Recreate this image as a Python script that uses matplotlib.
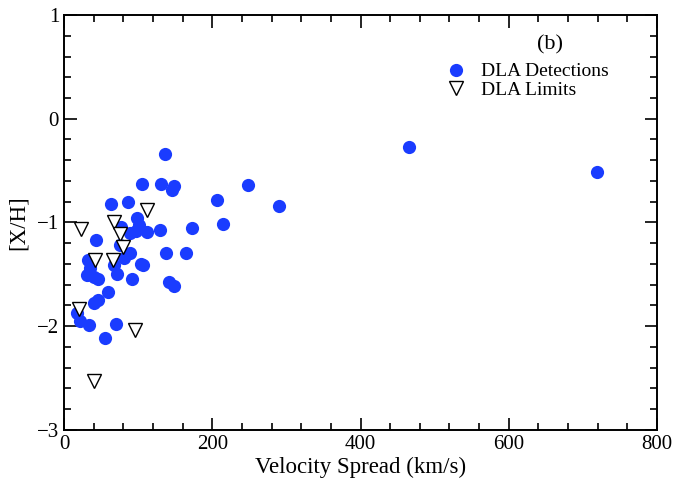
import matplotlib.pyplot as plt
from matplotlib.ticker import MultipleLocator

# DLA detections: velocity spread (km/s), [X/H]
det_v = [466, 719, 136, 105, 131, 148, 146, 248, 206, 290, 63, 86, 99, 214, 173,
         77, 89, 97, 101, 112, 129, 43, 76, 89, 138, 165, 33, 81, 104, 107, 35,
         67, 31, 40, 46, 71, 92, 141, 149, 59, 40, 46, 18, 22, 34, 70, 55]
det_xh = [-0.27, -0.51, -0.34, -0.63, -0.63, -0.65, -0.69, -0.64, -0.78, -0.84,
          -0.82, -0.80, -0.96, -1.01, -1.05, -1.04, -1.10, -1.08, -1.02, -1.09,
          -1.07, -1.17, -1.22, -1.29, -1.29, -1.29, -1.36, -1.34, -1.40, -1.41,
          -1.44, -1.41, -1.51, -1.53, -1.54, -1.50, -1.54, -1.57, -1.61, -1.67,
          -1.78, -1.75, -1.87, -1.95, -1.99, -1.98, -2.11]

# DLA limits
lim_v = [112, 23, 68, 75, 80, 42, 66, 20, 96, 40]
lim_xh = [-0.88, -1.06, -1.00, -1.11, -1.24, -1.36, -1.36, -1.83, -2.04, -2.53]

plt.rcParams['font.family'] = ['Liberation Serif', 'DejaVu Serif']

fig = plt.figure(figsize=(6.77, 4.84), dpi=100)
ax = fig.add_axes([0.0945, 0.1116, 0.876, 0.8574])

ax.plot(det_v, det_xh, 'o', color='#1a3cff', markersize=9.5, markeredgewidth=0,
        label='DLA Detections')
ax.plot(lim_v, lim_xh, 'v', markerfacecolor='white', markeredgecolor='black',
        markeredgewidth=1.0, markersize=10, label='DLA Limits')

ax.set_xlim(0, 800)
ax.set_ylim(-3, 1)
ax.xaxis.set_major_locator(MultipleLocator(200))
ax.xaxis.set_minor_locator(MultipleLocator(40))
ax.yaxis.set_major_locator(MultipleLocator(1))
ax.yaxis.set_minor_locator(MultipleLocator(0.2))
ax.tick_params(which='both', direction='in', top=True, right=True, labelsize=15, width=1.2)
ax.tick_params(which='major', length=9)
ax.tick_params(which='minor', length=5)
for s in ax.spines.values():
    s.set_linewidth(1.4)

ax.set_xlabel('Velocity Spread (km/s)', fontsize=16.5, labelpad=2)
ax.set_ylabel('[X/H]', fontsize=16.5, labelpad=6)

ax.text(656, 0.71, '(b)', fontsize=16, ha='center', va='center')
ax.legend(loc='upper left', bbox_to_anchor=(0.642, 0.885), frameon=False, fontsize=14,
          handletextpad=0.65, labelspacing=0.05, handlelength=1.2, borderaxespad=0,
          borderpad=0)

fig.savefig('out.png', dpi=100)
